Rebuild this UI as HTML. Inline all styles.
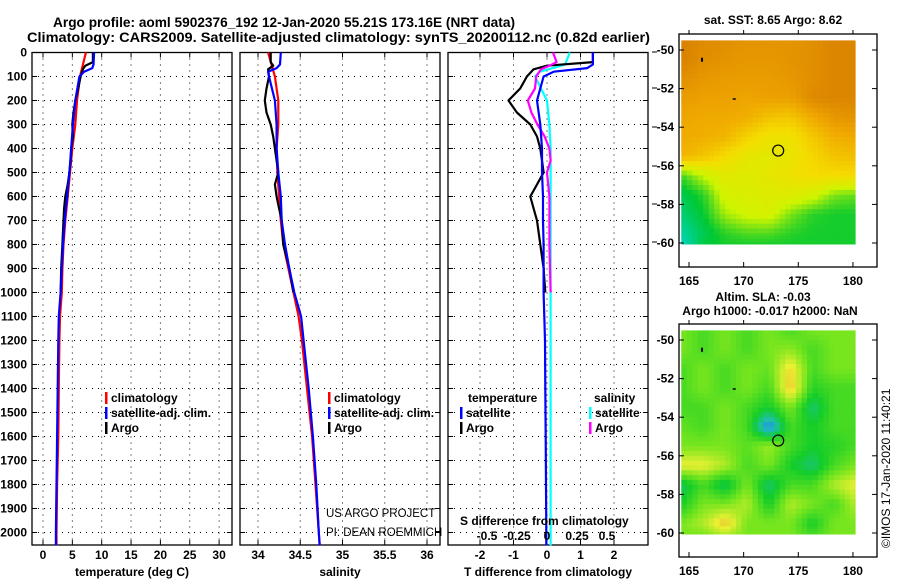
<!DOCTYPE html>
<html><head><meta charset="utf-8"><style>
html,body{margin:0;padding:0;background:#fff}
svg{display:block;font-family:"Liberation Sans",Arial,sans-serif}
.t{font-weight:bold;font-size:12px;fill:#000}
.ttl{font-weight:bold;font-size:14px;fill:#000}
.grid{stroke:#000;stroke-width:1;stroke-dasharray:1,5}
</style></head><body>
<svg id="fig" width="900" height="580" viewBox="0 0 900 580" xmlns="http://www.w3.org/2000/svg">
<text class="ttl" x="53" y="27" textLength="462" lengthAdjust="spacingAndGlyphs">Argo profile: aoml 5902376_192 12-Jan-2020 55.21S 173.16E (NRT data)</text>
<text class="ttl" x="27" y="42" textLength="623" lengthAdjust="spacingAndGlyphs">Climatology: CARS2009. Satellite-adjusted climatology: synTS_20200112.nc (0.82d earlier)</text>
<g id="layer"></g>
</svg>
<script>
// ---------- profile data ----------
const argoDepth = [0,40,55,70,100,150,200,250,300,350,400,450,500,550,600,650,700,800,900,1000];
const argoTemp  = [8.5,8.5,7.2,6.8,6.4,6.0,5.5,5.2,5.0,5.1,4.8,4.7,4.5,4.2,3.8,3.6,3.5,3.3,3.1,3.0];
const argoSal   = [34.15,34.15,34.18,34.12,34.13,34.1,34.08,34.1,34.15,34.18,34.2,34.22,34.24,34.2,34.22,34.25,34.28,34.3,34.37,34.42];
const climDepth = [0,100,200,300,400,500,600,700,800,900,1000,1100,1200,1400,1600,1800,2000,2054];
const climTemp  = [7.3,6.3,5.8,5.5,5.0,4.6,4.2,3.8,3.5,3.3,3.2,2.9,2.8,2.7,2.6,2.4,2.3,2.3];
const climSal   = [34.12,34.2,34.24,34.24,34.22,34.23,34.25,34.27,34.3,34.36,34.42,34.48,34.52,34.58,34.64,34.68,34.72,34.73];
const satDepth  = [0,50,65,80,100,200,300,400,500,600,700,800,900,1000,1100,1200,1400,1600,1800,2000,2054];
const satTemp   = [8.7,8.6,8.4,7.0,6.2,5.5,5.1,4.8,4.5,4.1,3.7,3.4,3.2,3.0,2.7,2.6,2.5,2.4,2.3,2.2,2.2];
const satSal    = [34.27,34.26,34.22,34.12,34.13,34.2,34.22,34.22,34.24,34.27,34.28,34.32,34.37,34.43,34.51,34.54,34.6,34.65,34.69,34.72,34.73];
const diffArgoT = [1.37,1.37,0.0,-0.4,-0.6,-0.8,-1.15,-0.9,-0.5,-0.3,-0.2,-0.15,-0.1,-0.3,-0.5,-0.4,-0.3,-0.2,-0.1,-0.05];
const diffArgoS = [0.05,0.08,0.02,-0.05,-0.09,-0.1,-0.16,-0.13,-0.08,-0.02,0.02,0.03,0.0,0.01,0.02,0.02,0.02,0.02,0.025,0.03];
const diffSatT  = [1.37,1.37,1.2,0.2,-0.1,-0.3,-0.2,-0.15,-0.15,-0.12,-0.12,-0.1,-0.1,-0.1,-0.08,-0.06,-0.05,-0.04,-0.03,-0.02,-0.02];
const diffSatS  = [0.19,0.15,0.05,-0.06,-0.1,0.0,0.02,0.03,0.03,0.03,0.03,0.03,0.03,0.03,0.03,0.03,0.03,0.03,0.03,0.03,0.03];
const depthTicks = [0,100,200,300,400,500,600,700,800,900,1000,1100,1200,1300,1400,1500,1600,1700,1800,1900,2000];
const tempTicks = [0,5,10,15,20,25,30];
const salTicks = [34,34.5,35,35.5,36];
const salTickLabels = ["34","34.5","35","35.5","36"];
const tdTicks = [-2,-1,0,1,2];
const sdTicks = [-0.5,-0.25,0,0.25,0.5];
const sdTickLabels = ["-0.5","-0.25","0","0.25","0.5"];
// ---------- map data (rows: lat, cols: lon) ----------
const mapLats = [-49.5,-50.5,-51.5,-52.5,-53.5,-54.5,-55.5,-56.5,-57.5,-58.5,-59.5,-60.1];
const mapLons = [164.3,166.3,168.3,170.3,172.3,174.3,176.3,178.3,180.2];
const sstGrid = [
 [4.9,4.7,4.6,4.5,4.5,4.5,4.6,4.8,4.8],
 [4.9,4.6,4.5,4.4,4.4,4.5,4.6,4.8,4.8],
 [4.6,4.4,4.3,4.3,4.3,4.4,4.6,4.8,4.8],
 [4.3,4.2,4.2,4.1,4.2,4.2,4.7,4.8,4.8],
 [4.1,4.0,4.0,3.9,3.5,3.4,4.0,4.4,4.5],
 [4.0,3.9,3.8,3.2,2.8,2.8,3.4,3.9,4.0],
 [3.8,3.5,3.0,2.6,2.5,2.7,3.1,3.5,3.6],
 [1.3,2.0,2.5,2.4,2.6,2.8,3.0,3.0,3.0],
 [0.8,1.2,2.2,2.3,2.4,2.4,2.2,1.6,1.5],
 [0.6,1.0,1.8,2.1,2.2,1.6,1.2,1.1,1.1],
 [0.3,0.8,1.2,1.4,1.4,1.2,1.1,1.1,1.1],
 [0.1,0.9,1.1,1.1,1.1,1.1,1.1,1.1,1.1]];
const slaGrid = [
 [3,2.5,3,2.5,3,2.5,3,3,3],
 [3,2.5,3,2.5,3,3.2,2.5,3,3],
 [2.5,3,2.5,3,2.8,4.3,2.5,3,3],
 [2.5,3,2.5,3,2.5,4.5,2.2,2.5,2.5],
 [2.5,2.5,3,2.5,2.0,3.0,1.5,2.5,2.5],
 [2.8,2.5,3,2.5,0.3,2.5,2,2.5,2.5],
 [3,3,3,2.7,3.3,2.5,2,2.2,2.5],
 [4,4,3.5,2.5,3,2,1.5,2.5,3],
 [1.6,2.5,1.6,3,1.5,2.5,2.5,3.5,4],
 [2,3,3,3.5,2,3.5,3,2.5,3.5],
 [3,3.5,4.5,3,3,3,2,3,3],
 [3,3,3.5,3,3,3,2.5,3,3]];
const mapLatTicks = [-50,-52,-54,-56,-58,-60];
const mapLonTicks = [165,170,175,180];

const NS="http://www.w3.org/2000/svg";
const L=document.getElementById('layer');
function mk(tag,attrs,parent){const e=document.createElementNS(NS,tag);for(const k in attrs)e.setAttribute(k,attrs[k]);(parent||L).appendChild(e);return e;}
const yTop=52.5, pxPerM=0.24;
const yD=d=>yTop+d*pxPerM;
const yBot=545;

function panel(name,x0,x1,xs,ticks,labels,xlabel,gridX){
  const g=mk('g',{});
  
  
  gridX.forEach(v=>{const l=mk('line',{x1:xs(v),x2:xs(v),y1:yTop,y2:yBot,class:'grid'},g);
    });
  depthTicks.forEach(d=>{if(d===0)return;const l=mk('line',{x1:x0,x2:x1,y1:yD(d),y2:yD(d),class:'grid'},g);
    
    mk('line',{x1:x0,x2:x0+5,y1:yD(d),y2:yD(d),stroke:'#000'},g);mk('line',{x1:x1-5,x2:x1,y1:yD(d),y2:yD(d),stroke:'#000'},g);});
  ticks.forEach((v,i)=>{mk('line',{x1:xs(v),x2:xs(v),y1:yBot,y2:yBot-5,stroke:'#000'},g);mk('line',{x1:xs(v),x2:xs(v),y1:yTop,y2:yTop+5,stroke:'#000'},g);
    if(labels){const t=mk('text',{x:xs(v),y:559,'text-anchor':'middle',class:'t'},g);t.textContent=labels[i];
    }});
  const r=mk('rect',{x:x0,y:yTop,width:x1-x0,height:yBot-yTop,fill:'none',stroke:'#000','stroke-width':1.3},g);
  
  const xl=mk('text',{x:(x0+x1)/2,y:576,'text-anchor':'middle',class:'t'},g);xl.textContent=xlabel;
  
  return g;
}
function line(g,xs,vals,depths,color,name){
  let d='';vals.forEach((v,i)=>{d+=(i?'L':'M')+xs(v).toFixed(1)+','+yD(depths[i]).toFixed(1);});
  const p=mk('path',{d:d,fill:'none',stroke:color,'stroke-width':2.2,'stroke-linejoin':'round'},g);
  
}
function txt(g,x,y,s,name,anchor,cls,extra){const t=mk('text',Object.assign({x:x,y:y,'text-anchor':anchor||'start',class:cls||'t'},extra||{}),g);t.textContent=s;
  return t;}
function legItem(g,x,y,color,s,name){const b=mk('rect',{x:x,y:y-10,width:2.5,height:12,fill:color},g);
  
  txt(g,x+6,y,s,name);}

depthTicks.forEach(d=>{txt(L,27,yD(d)+4,String(d),'y-tick-label','end');});

// Panel 1 temperature
const xT=v=>43+v*5.87;
const p1=panel('temperature-panel',32,232,xT,tempTicks,tempTicks.map(String),'temperature (deg C)',tempTicks);
line(p1,xT,climTemp,climDepth,'#ff0000','climatology-temp-line');
line(p1,xT,argoTemp,argoDepth,'#000000','argo-temp-line');
line(p1,xT,satTemp,satDepth,'#0000ff','satellite-temp-line');
legItem(p1,105,402,'#ff0000','climatology','legend-climatology');
legItem(p1,105,417,'#0000ff','satellite-adj. clim.','legend-satellite');
legItem(p1,105,432,'#000000','Argo','legend-argo');

// Panel 2 salinity
const xS=v=>258+(v-34)*84.5;
const p2=panel('salinity-panel',240,440,xS,salTicks,salTickLabels,'salinity',salTicks);
line(p2,xS,climSal,climDepth,'#ff0000','climatology-sal-line');
line(p2,xS,argoSal,argoDepth,'#000000','argo-sal-line');
line(p2,xS,satSal,satDepth,'#0000ff','satellite-sal-line');
legItem(p2,328,402,'#ff0000','climatology','legend-climatology');
legItem(p2,328,417,'#0000ff','satellite-adj. clim.','legend-satellite');
legItem(p2,328,432,'#000000','Argo','legend-argo');
txt(p2,326,517,'US ARGO PROJECT','credit-project','start','t',{style:'font-weight:normal;font-size:11.5px'});
txt(p2,326,536,'PI: DEAN ROEMMICH','credit-pi','start','t',{style:'font-weight:normal;font-size:11.5px'});

// Panel 3 differences
const xTD=v=>547+v*33.5;
const xSD=v=>547+v*120;
const p3=panel('difference-panel',448,648,xTD,tdTicks,tdTicks.map(String),'T difference from climatology',[-2,-1,0,1,2]);
[52,88,127,166,204,242].forEach(y=>mk('line',{x1:652,x2:657,y1:y,y2:y,stroke:'#000'},p3));
line(p3,xSD,diffSatS,satDepth,'#00ffff','satellite-sal-diff-line');
line(p3,xTD,diffArgoT,argoDepth,'#000000','argo-temp-diff-line');
line(p3,xSD,diffArgoS,argoDepth,'#ff00ff','argo-sal-diff-line');
line(p3,xTD,diffSatT,satDepth,'#0000ff','satellite-temp-diff-line');
txt(p3,468,402,'temperature','legend-temperature-header');
txt(p3,594,402,'salinity','legend-salinity-header');
legItem(p3,460,417,'#0000ff','satellite','legend-temp-satellite');
legItem(p3,460,432,'#000000','Argo','legend-temp-argo');
legItem(p3,589,417,'#00ffff','satellite','legend-sal-satellite');
legItem(p3,589,432,'#ff00ff','Argo','legend-sal-argo');
txt(p3,460,525,'S difference from climatology','s-axis-title');
sdTicks.forEach((v,i)=>txt(p3,xSD(v),540,sdTickLabels[i],'s-tick-label','middle'));

// ---------- maps ----------
function lerp(a,b,t){return a.map((x,i)=>Math.round(x+(b[i]-x)*t));}
function cmap(stops,v){const n=stops.length-1;v=Math.max(0,Math.min(n,v));const i=Math.min(n-1,Math.floor(v));const c=lerp(stops[i],stops[i+1],v-i);return 'rgb('+c.join(',')+')';}
const sstStops=[[0,215,215],[0,200,50],[205,245,0],[245,220,0],[240,170,0],[215,125,0]];
const slaStops=[[30,90,245],[30,190,190],[20,205,40],[120,230,30],[235,240,50],[225,140,40]];
function map(name,top,grid,stops){
  const g=mk('g',{});
  
  const lonX=l=>689+(l-165)*10.93;
  const latY=la=>top+16+(-50-la)*19.3;
  const x0=680,x1=855,y0=top+1,y1=latY(-60.05);
  const SUB=4;
  const nr=mapLats.length, nc=mapLons.length;
  // bilinear sampling of the grid on a finer raster
  const cols=(nc-1)*SUB, rows=(nr-1)*SUB;
  for(let r=0;r<rows;r++){
    const fr=r/SUB, ri=Math.floor(fr), tr=fr-ri;
    const latA=mapLats[ri]+(mapLats[ri+1]-mapLats[ri])*tr, latB=mapLats[ri]+(mapLats[ri+1]-mapLats[ri])*(tr+1/SUB);
    let ya=Math.max(latY(latA),y0), yb=Math.min(latY(latB),y1);
    if(yb<=ya)continue;
    for(let c=0;c<cols;c++){
      const fc=c/SUB, ci=Math.floor(fc), tc=fc-ci;
      const lonA=mapLons[ci]+(mapLons[ci+1]-mapLons[ci])*tc, lonB=mapLons[ci]+(mapLons[ci+1]-mapLons[ci])*(tc+1/SUB);
      let xa=Math.max(lonX(lonA),x0), xb=Math.min(lonX(lonB),x1);
      if(xb<=xa)continue;
      const tcm=tc+0.5/SUB, trm=tr+0.5/SUB;
      const v=(grid[ri][ci]*(1-tcm)+grid[ri][ci+1]*tcm)*(1-trm)+(grid[ri+1][ci]*(1-tcm)+grid[ri+1][ci+1]*tcm)*trm;
      const cell=mk('rect',{x:xa.toFixed(1),y:ya.toFixed(1),width:(xb-xa+0.6).toFixed(1),height:(yb-ya+0.6).toFixed(1),fill:cmap(stops,v)},g);
      
      
    }
  }
  const frm=mk('rect',{x:679,y:top,width:198,height:233,fill:'none',stroke:'#000','stroke-width':1.3},g);
  
  mapLatTicks.forEach(la=>{mk('line',{x1:679,x2:684,y1:latY(la),y2:latY(la),stroke:'#000'},g);mk('line',{x1:872,x2:877,y1:latY(la),y2:latY(la),stroke:'#000'},g);
    txt(g,674,latY(la)+4,String(la),'map-lat-label','end');});
  mapLonTicks.forEach(lo=>{mk('line',{x1:lonX(lo),x2:lonX(lo),y1:top+233,y2:top+228,stroke:'#000'},g);mk('line',{x1:lonX(lo),x2:lonX(lo),y1:top,y2:top-4,stroke:'#000'},g);
    txt(g,lonX(lo),top+251,String(lo),'map-lon-label','middle');});
  mk('path',{d:'M'+lonX(166.1)+','+latY(-50.4)+'l2,0l0,4l-2,0z',fill:'#000'},g);
  mk('path',{d:'M'+lonX(169)+','+latY(-52.5)+'l3,0l0,1.5l-3,0z',fill:'#000'},g);
  const ci=mk('circle',{cx:lonX(173.16),cy:latY(-55.21),r:5.5,fill:'none',stroke:'#000','stroke-width':1.2},g);
  
  return g;
}
const m1=map('sst-map',34,sstGrid,sstStops);
txt(m1,773,24,'sat. SST: 8.65 Argo: 8.62','sst-map-title','middle');
const m2=map('sla-map',324,slaGrid,slaStops);
txt(m2,763,301,'Altim. SLA: -0.03','sla-map-title','middle');
txt(m2,770,315,'Argo h1000: -0.017 h2000: NaN','sla-map-subtitle','middle');
txt(L,890,548,'©IMOS 17-Jan-2020 11:40:21','timestamp','start','t',{transform:'rotate(-90 890 548)',style:'font-weight:normal'});
</script>
</body></html>
